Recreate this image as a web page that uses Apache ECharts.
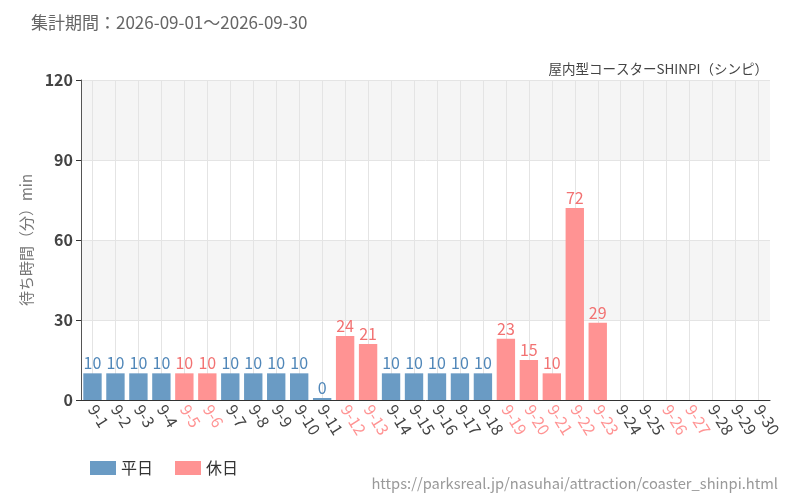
<!DOCTYPE html>
<html>
<head>
<meta charset="utf-8">
<script src="https://cdn.jsdelivr.net/npm/echarts@6/dist/echarts.min.js"></script>
<style>
    html, body { margin: 0; padding: 0; background: #fff; }
    #chart { width: 800px; height: 500px; }
</style>
</head>
<body>
<div id="chart"></div>
<script>
// 日付ラベル
var days = ['9-1', '9-2', '9-3', '9-4', '9-5', '9-6', '9-7', '9-8', '9-9', '9-10',
    '9-11', '9-12', '9-13', '9-14', '9-15', '9-16', '9-17', '9-18', '9-19', '9-20',
    '9-21', '9-22', '9-23', '9-24', '9-25', '9-26', '9-27', '9-28', '9-29', '9-30'];
// 休日フラグ (1 = 休日)
var holiday = [0, 0, 0, 0, 1, 1, 0, 0, 0, 0,
    0, 1, 1, 0, 0, 0, 0, 0, 1, 1,
    1, 1, 1, 0, 0, 1, 1, 0, 0, 0];
// 待ち時間（分）, null = データなし
var waitMin = [10, 10, 10, 10, 10, 10, 10, 10, 10, 10,
    0, 24, 21, 10, 10, 10, 10, 10, 23, 15,
    10, 72, 29, null, null, null, null, null, null, null];
var yTicks = [0, 30, 60, 90, 120];

var BLUE = '#6a9bc4';
var RED = '#ff9393';
var BLUE_TXT = '#4f86b8';
var RED_TXT = '#f27272';

let weekdayData = waitMin.map((v, i) => holiday[i] ? null : v);
let holidayData = waitMin.map((v, i) => holiday[i] ? v : null);

// 縦のグリッド線用 (カテゴリ中央に線を引く)
let halfSteps = [];
for (let i = 0; i <= days.length * 2; i++) halfSteps.push(i);

let chart = echarts.init(document.getElementById('chart'));

let labelStyle = (color) => ({
    show: true,
    position: 'top',
    distance: 2,
    color: color,
    fontSize: 16,
    formatter: '{c}'
});

let option = {
    backgroundColor: '#fff',
    animation: false,
    textStyle: { fontFamily: "'Noto Sans CJK JP', sans-serif" },
    title: [{
        text: '集計期間：2026-09-01～2026-09-30',
        left: 26,
        top: 9,
        textStyle: { fontSize: 17, fontWeight: 'normal', color: '#666' }
    }, {
        text: '屋内型コースターSHINPI（シンピ）',
        right: 27,
        top: 57,
        textStyle: { fontSize: 13.5, fontWeight: 'normal', color: '#444' }
    }, {
        text: 'https://parksreal.jp/nasuhai/attraction/coaster_shinpi.html',
        right: 17,
        top: 471,
        textStyle: { fontSize: 14.7, fontWeight: 'normal', color: '#999' }
    }],
    legend: {
        left: 85,
        top: 455,
        itemWidth: 26,
        itemHeight: 14,
        itemGap: 22,
        icon: 'rect',
        textStyle: { fontSize: 16, color: '#333' },
        data: ['平日', '休日']
    },
    grid: {
        left: 81,
        right: 30,
        top: 80,
        bottom: 100
    },
    xAxis: [{
        type: 'category',
        data: days,
        axisLine: { lineStyle: { color: '#333', width: 1 } },
        axisTick: { alignWithLabel: true, length: 5, lineStyle: { color: '#333' } },
        axisLabel: {
            interval: 0,
            rotate: -58,
            fontSize: 16,
            margin: 6,
            color: (value, index) => holiday[index] ? RED : '#444'
        },
        splitLine: { show: false }
    }, {
        type: 'category',
        data: halfSteps,
        boundaryGap: false,
        show: true,
        position: 'bottom',
        axisLine: { show: false },
        axisTick: { show: false },
        axisLabel: { show: false },
        splitLine: {
            show: true,
            interval: (index) => index % 2 === 1,
            lineStyle: { color: '#e4e4e4' }
        }
    }],
    yAxis: {
        type: 'value',
        min: yTicks[0],
        max: yTicks[yTicks.length - 1],
        interval: 30,
        name: '待ち時間（分）min',
        nameLocation: 'middle',
        nameGap: 47,
        nameTextStyle: { fontSize: 15, color: '#777' },
        axisLine: { show: true, lineStyle: { color: '#555' } },
        axisTick: { show: true, length: 5, lineStyle: { color: '#333' } },
        axisLabel: { fontSize: 16, color: '#444', fontWeight: 'bold', margin: 8 },
        splitLine: { lineStyle: { color: '#e4e4e4' } },
        splitArea: { show: true, areaStyle: { color: ['#ffffff', '#f5f5f5'] } }
    },
    series: [{
        name: '平日',
        type: 'bar',
        data: weekdayData,
        barWidth: '80%',
        barGap: '-100%',
        barMinHeight: 2,
        itemStyle: { color: BLUE },
        label: labelStyle(BLUE_TXT)
    }, {
        name: '休日',
        type: 'bar',
        data: holidayData,
        barWidth: '80%',
        barGap: '-100%',
        barMinHeight: 2,
        itemStyle: { color: RED },
        label: labelStyle(RED_TXT)
    }]
};

chart.setOption(option);
</script>
</body>
</html>
